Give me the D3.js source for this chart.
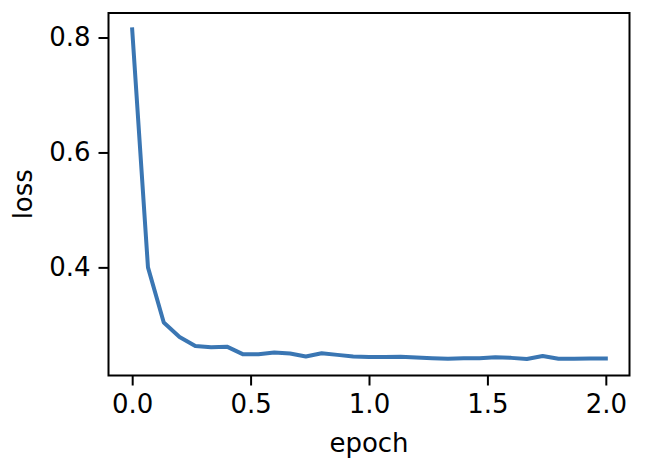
<!DOCTYPE html>
<html><head><meta charset="utf-8">
<script src="https://cdn.jsdelivr.net/npm/d3@7"></script>
<style>body{margin:0;background:#fff}svg{display:block}text{font-family:"DejaVu Sans",sans-serif;fill:#000}</style>
</head><body>
<script>
const epochs = d3.range(31).map(i => i / 15);
const loss = [0.814, 0.400, 0.304, 0.279, 0.263, 0.261, 0.262, 0.249, 0.249, 0.252, 0.250,
  0.245, 0.2506, 0.2477, 0.245, 0.244, 0.244, 0.2446, 0.243, 0.242, 0.241, 0.2417, 0.242,
  0.2435, 0.2425, 0.2405, 0.2457, 0.241, 0.241, 0.2415, 0.2415];
const xTicks = [0, 0.5, 1.0, 1.5, 2.0];
const yTicks = [0.4, 0.6, 0.8];
const xLabel = "epoch", yLabel = "loss";

const W = 648, H = 468;
const m = {l: 108.5, r: 629.5, t: 13, b: 375.5};
const svg = d3.select("body").append("svg").attr("width", W).attr("height", H);
const xmin = d3.min(epochs), xmax = d3.max(epochs);
const ymin = d3.min(loss), ymax = d3.max(loss);
const xp = (xmax - xmin) * 0.05, yp = (ymax - ymin) * 0.05;
const x = d3.scaleLinear().domain([xmin - xp, xmax + xp]).range([m.l, m.r]);
const y = d3.scaleLinear().domain([ymin - yp, ymax + yp]).range([m.b, m.t]);

const fs = 26;
const xa = svg.append("g").attr("transform", `translate(0,${m.b})`)
  .call(d3.axisBottom(x).tickValues(xTicks).tickFormat(d3.format(".1f")).tickSize(10).tickPadding(9));
const ya = svg.append("g").attr("transform", `translate(${m.l},0)`)
  .call(d3.axisLeft(y).tickValues(yTicks).tickFormat(d3.format(".1f")).tickSize(10).tickPadding(8));
[xa, ya].forEach(a => {
  a.select(".domain").remove();
  a.selectAll(".tick line").attr("stroke", "#000").attr("stroke-width", 2);
  a.selectAll(".tick text").attr("font-size", fs).attr("font-family", "DejaVu Sans").attr("fill", "#000");
});

svg.append("path").datum(epochs.map((e, i) => [e, loss[i]]))
  .attr("fill", "none").attr("stroke", "#3a76b3").attr("stroke-width", 4)
  .attr("stroke-linejoin", "round").attr("stroke-linecap", "square")
  .attr("d", d3.line().x(d => x(d[0])).y(d => y(d[1])));

svg.append("rect").attr("x", m.l).attr("y", m.t).attr("width", m.r - m.l).attr("height", m.b - m.t)
  .attr("fill", "none").attr("stroke", "#000").attr("stroke-width", 2);

svg.append("text").attr("x", (m.l + m.r) / 2).attr("y", 452).attr("text-anchor", "middle")
  .attr("font-size", fs).text(xLabel);
svg.append("text").attr("transform", `translate(32,${(m.t + m.b) / 2}) rotate(-90)`)
  .attr("text-anchor", "middle").attr("font-size", fs).text(yLabel);
</script>
</body></html>
